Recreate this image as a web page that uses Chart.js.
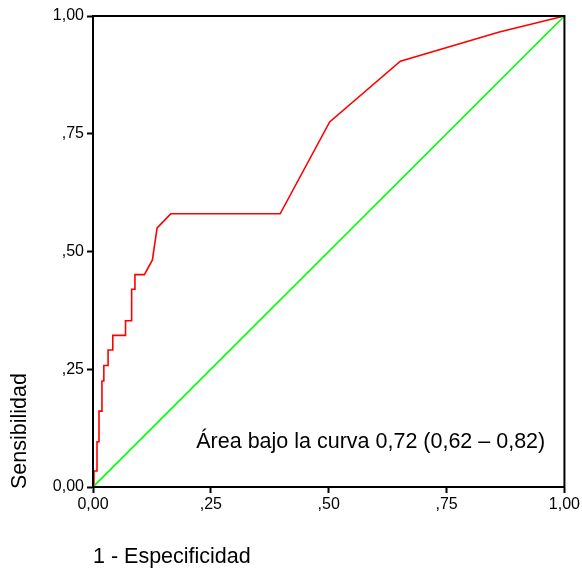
<!DOCTYPE html>
<html>
<head>
<meta charset="utf-8">
<script src="https://cdn.jsdelivr.net/npm/chart.js@4/dist/chart.umd.min.js"></script>
<style>
  html, body { margin: 0; padding: 0; background: #fff; }
  #wrap { width: 582px; height: 569px; }
</style>
</head>
<body>
<div id="wrap"><canvas id="roc" width="582" height="569"></canvas></div>
<script>
// ROC curve: 1 - specificity vs sensitivity
const fpr = [0, 0.002, 0.0085, 0.0085, 0.0127, 0.0127, 0.019, 0.019, 0.023, 0.023,
             0.032, 0.032, 0.042, 0.042, 0.069, 0.069, 0.082, 0.082, 0.089, 0.089,
             0.109, 0.126, 0.136, 0.165, 0.397, 0.502, 0.652, 0.862, 1];
const tpr = [0, 0.034, 0.034, 0.096, 0.096, 0.161, 0.161, 0.225, 0.225, 0.258,
             0.258, 0.291, 0.291, 0.322, 0.322, 0.353, 0.353, 0.420, 0.420, 0.451,
             0.451, 0.482, 0.550, 0.580, 0.580, 0.775, 0.904, 0.966, 1];
const refX = [0, 1];
const refY = [0, 1];
const tickValues = [0, 0.25, 0.5, 0.75, 1];
const tickLabels = ['0,00', ',25', ',50', ',75', '1,00'];
const aucText = 'Área bajo la curva 0,72 (0,62 – 0,82)';
const xTitle = '1 - Especificidad';
const yTitle = 'Sensibilidad';

const FONT = '"Liberation Sans", Arial, sans-serif';

const toPoints = (xs, ys) => xs.map((x, i) => ({ x: x, y: ys[i] }));
const labelFor = v => tickLabels[tickValues.indexOf(Math.round(v * 100) / 100)] || '';

// frame, axis titles and the area note
const extras = {
  id: 'extras',
  afterDraw(chart) {
    const ctx = chart.ctx;
    const a = chart.chartArea;
    const xs = chart.scales.x, ys = chart.scales.y;
    ctx.save();
    ctx.strokeStyle = '#000';
    ctx.lineWidth = 2;
    ctx.strokeRect(a.left, a.top, a.right - a.left, a.bottom - a.top);

    ctx.fillStyle = '#000';
    ctx.font = '21.5px ' + FONT;
    ctx.textBaseline = 'middle';
    ctx.textAlign = 'left';
    ctx.fillText(aucText, xs.getPixelForValue(0.219), ys.getPixelForValue(0.096));

    ctx.fillText(xTitle, a.left, 557);

    ctx.translate(20, a.bottom + 2);
    ctx.rotate(-Math.PI / 2);
    ctx.fillText(yTitle, 0, 0);
    ctx.restore();
  }
};

new Chart(document.getElementById('roc'), {
  type: 'scatter',
  data: {
    datasets: [{
      data: toPoints(refX, refY),
      showLine: true,
      borderColor: '#00ff00',
      borderWidth: 1.6,
      pointRadius: 0
    }, {
      data: toPoints(fpr, tpr),
      showLine: true,
      borderColor: '#ff0000',
      borderWidth: 1.6,
      pointRadius: 0,
      tension: 0
    }]
  },
  options: {
    responsive: false,
    animation: false,
    layout: { padding: { top: 16, right: 17, left: 0, bottom: 0 } },
    plugins: { legend: { display: false }, tooltip: { enabled: false } },
    scales: {
      x: {
        type: 'linear', min: 0, max: 1,
        afterFit(s) { s.height = 82; },
        afterBuildTicks(s) { s.ticks = tickValues.map(v => ({ value: v })); },
        grid: { drawOnChartArea: false, drawTicks: true, tickLength: 6, tickWidth: 2, tickColor: '#000' },
        border: { display: true, color: '#000', width: 2 },
        ticks: { color: '#000', padding: 2, maxRotation: 0, font: { family: FONT, size: 16 }, callback: labelFor }
      },
      y: {
        type: 'linear', min: 0, max: 1,
        afterFit(s) { s.width = 93; },
        afterBuildTicks(s) { s.ticks = tickValues.map(v => ({ value: v })); },
        grid: { drawOnChartArea: false, drawTicks: true, tickLength: 6, tickWidth: 2, tickColor: '#000' },
        border: { display: true, color: '#000', width: 2 },
        ticks: { color: '#000', padding: 3, font: { family: FONT, size: 16 }, callback: labelFor }
      }
    }
  },
  plugins: [extras]
});
</script>
</body>
</html>
